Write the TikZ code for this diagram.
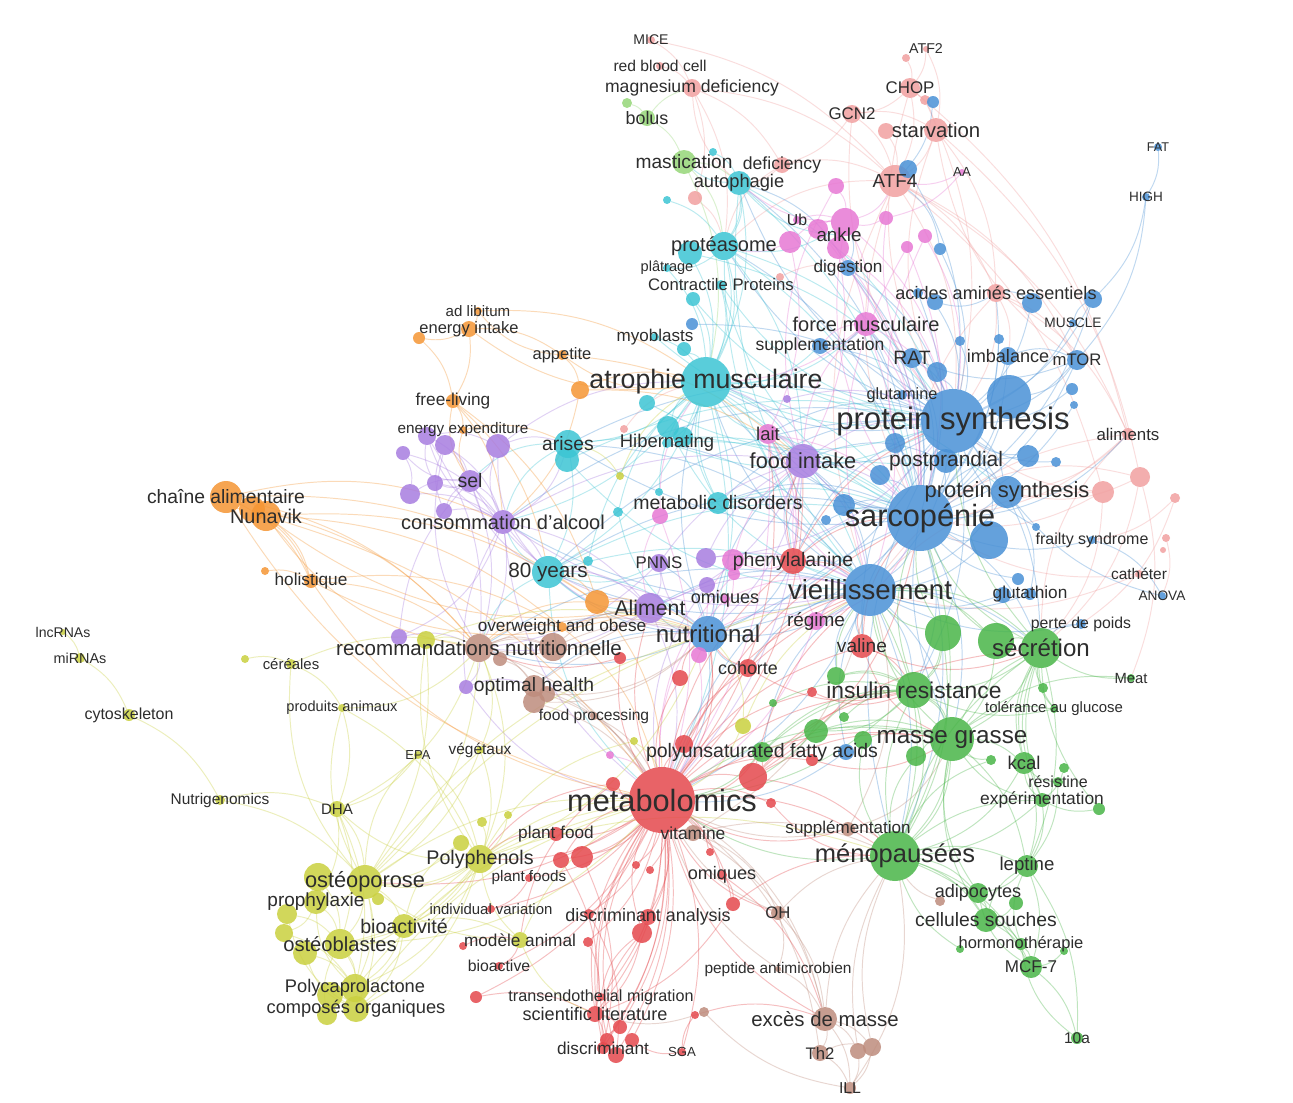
\documentclass[tikz,border=0pt]{standalone}
\usepackage{fontspec}
\setmainfont{Liberation Sans}

\definecolor{cred}{RGB}{229,72,77}
\definecolor{csalmon}{RGB}{241,160,160}
\definecolor{cgreen}{RGB}{73,181,72}
\definecolor{clime}{RGB}{150,215,120}
\definecolor{cblue}{RGB}{74,145,214}
\definecolor{cyellow}{RGB}{202,208,63}
\definecolor{cpurple}{RGB}{168,125,224}
\definecolor{ccyan}{RGB}{60,197,212}
\definecolor{corange}{RGB}{245,150,52}
\definecolor{cbrown}{RGB}{190,140,125}
\definecolor{cpink}{RGB}{231,120,212}
\definecolor{txt}{RGB}{45,45,45}

\tikzset{
  kw/.style={circle, inner sep=0pt, outer sep=0pt, minimum size={0.04cm*#1}},
  lbl/.style={inner sep=0pt, text=txt},
  link/.style={line width=0.55pt, draw opacity=0.35},
}

% keyword lists: name/x/y/radius/font size/label
\newcommand{\salmonkw}{mice/651/40/4/8/MICE, rbc/660/66/4/8.9/red blood cell,
  mgd/692/88/9/10/magnesium deficiency, atf2/926/49/3/8.1/ATF2, atfb/906/58/4/8/{},
  chop/910/88/10/9.6/CHOP, chopb/925/100/5/8/{}, gcn2/852/114/9/9.6/GCN2,
  starv/936/130/12/11.6/starvation, starvb/886/131/8/8/{}, atf4/895/181/16/10.7/ATF4,
  defic/782/165/8/10/deficiency, salA/695/198/7/8/{}, salB/780/277/4/8/{},
  aae/996/293/9/10.3/acides aminés essentiels, alim/1128/434/6/9.6/aliments,
  salC/1103/492/11/8/{}, salD/1140/477/10/8/{}, salE/1175/498/5/8/{},
  salF/1166/538/4/8/{}, salH/1163/550/3/8/{}, cath/1139/574/4/8.8/cathéter, salG/624/429/4/8/{}}
\newcommand{\bluekw}{fat/1158/147/4/7.2/FAT, high/1146/197/4/7.7/HIGH, blA/933/102/6/8/{},
  blB/908/169/9/8/{}, blC/940/249/6/8/{}, dig/848/268/8/9.8/digestion,
  blD/935/302/8/8/{}, blE/918/293/5/8/{}, blF/1032/303/10/8/{}, blG/1093/299/9/8/{},
  muscle/1073/323/4/7.8/MUSCLE, supp/820/346/8/10/supplementation, rat/912/358/10/11/RAT,
  blI/960/341/5/8/{}, blJ/999/339/5/8/{}, imb/1008/356/9/10.3/imbalance,
  mtor/1077/360/10/9.5/mTOR, blK/1072/389/6/8/{}, blL/1074/405/4/8/{}, blM/937/372/10/8/{},
  blN/1009/397/22/8/{}, glut/902/395/5/9.3/glutamine, ps/953/421/32/17.7/protein synthesis,
  blO/895/443/10/8/{}, blP/1028/456/11/8/{}, blQ/1056/462/5/8/{},
  post/946/461/12/11.9/postprandial, blR/880/475/10/8/{}, ps2/1007/492/16/12.5/protein synthesis,
  blS/844/505/11/8/{}, blT/826/520/5/8/{}, sarc/920/518/33/17.5/sarcopénie,
  blU/989/540/19/8/{}, frail/1092/540/4/9.1/frailty syndrome, blV/1036/527/4/8/{},
  vieil/870/590/26/15.7/vieillissement, blW/1003/595/8/8/{}, blWb/1018/579/6/8/{},
  gluta/1030/594/6/9.8/glutathion, anova/1162/596/4/7.8/ANOVA,
  perte/1081/624/5/9/perte de poids, nutri/708/634/18/13.7/nutritional,
  blX/692/324/6/8/{}, blY/846/752/8/8/{}}
\newcommand{\cyankw}{cyA/713/152/4/8/{}, cyB/667/200/4/8/{}, auto/739/183/12/10.4/autophagie,
  prot/724/246/14/11.4/protéasome, cyC/690/253/12/8/{}, plat/667/268/4/8.3/plâtrage,
  contr/721/285/5/9.5/Contractile Proteins, cyD/693/299/7/8/{}, myo/655/337/4/9.7/myoblasts,
  cyE/684/349/7/8/{}, atro/706/382/25/15.2/atrophie musculaire, cyF/647/403/8/8/{},
  cyG/668/427/11/8/{}, cyGb/683/437/10/8/{}, hib/667/443/5/10.5/Hibernating,
  arises/568/444/14/11/arises, cyH/567/460/12/8/{}, cyI/618/512/5/8/{}, cyJ/659/492/4/8/{},
  cyK/718/503/11/11.1/metabolic disorders, y80/548/572/16/11.8/80 years, cyL/588/561/5/8/{}}
\newcommand{\pinkkw}{aa/962/172/3/7.5/AA, pkA/836/186/8/8/{}, pkB/886/218/7/8/{}, ub/797/220/4/9/Ub,
  pkC/818/229/10/8/{}, pkAnk/845/222/14/8/{}, pkAnkb/838/248/11/8/{}, ankle/839/235/4/10.7/ankle,
  pkD/790/242/11/8/{}, pkE/925/236/7/8/{}, pkF/907/247/6/8/{}, force/866/324/12/11.4/force musculaire,
  lait/768/434/10/10.5/lait, pkG/733/560/11/8/{}, pkH/660/516/8/8/{},
  regime/816/621/9/10.8/régime, pkI/699/655/8/8/{}, pkJ/610/755/4/8/{}, pkL/734/574/6/8/{},
  omi/725/599/5/10.3/omiques}
\newcommand{\purplekw}{puA/427/436/9/8/{}, puB/445/445/10/8/{}, puC/498/446/12/8/{},
  puD/403/453/7/8/{}, sel/470/481/11/11.1/sel, puE/435/483/8/8/{}, puF/410/494/10/8/{},
  puG/444/511/8/8/{}, alc/503/522/12/11.4/consommation d’alcool,
  food/803/461/17/12.4/food intake, pnns/659/563/9/9.6/PNNS, puH/706/558/10/8/{},
  puI/707/585/8/8/{}, alimt/650/608/15/12.1/Aliment, puJ/399/637/8/8/{},
  puK/466/687/7/8/{}, puL/787/399/4/8/{}}
\newcommand{\orangekw}{adlib/478/311/4/8.6/ad libitum, eint/469/329/8/9.4/energy intake,
  orA/419/338/6/8/{}, app/562/355/5/9.4/appetite, orB/580/390/9/8/{},
  free/453/401/7/9.8/free-living, eexp/463/430/4/8.7/energy expenditure,
  orD/252/509/13/8/{}, chaine/226/497/16/11/chaîne alimentaire,
  nunavik/266/516/15/11.3/Nunavik, orE/265/571/4/8/{}, holi/311/581/7/9.8/holistique,
  orF/597/602/12/8/{}, over/562/627/5/9.8/overweight and obese}
\newcommand{\brownkw}{brB/553/647/14/8/{}, reco/479/648/14/11.7/recommandations nutritionnelle,
  brA/500/659/7/8/{}, brC/534/702/11/8/{}, brD/547/694/8/8/{},
  opt/534/686/11/11/optimal health, fproc/594/716/4/8.9/food processing,
  vit/693/833/8/9.9/vitamine, suppl/848/829/7/9.7/supplémentation, oh/778/913/7/9.5/OH,
  pept/778/969/3/8.8/peptide antimicrobien, exces/825/1019/12/11.6/excès de masse,
  th2/820/1053/8/9.5/Th2, brE/858/1051/8/8/{}, brF/872/1047/9/8/{}, ill/850/1088/6/9/ILL,
  brG/704/1012/5/8/{}, brH/940/901/5/8/{}}
\newcommand{\redkw}{metab/662/800/33/17.5/metabolomics, reA/753/777/14/8/{}, reB/684/744/9/8/{},
  reC/613/784/7/8/{}, reD/771/803/5/8/{}, reE/680/678/8/8/{}, reF/620/658/6/8/{},
  coh/748/668/9/10.2/cohorte, val/862/646/12/10.9/valine, reG/812/692/5/8/{},
  phen/793/561/13/11.1/phenylalanine, reH/812/760/6/8/{}, pfood/556/834/7/9.8/plant food,
  reI/561/860/8/8/{}, reJ/582/857/11/8/{}, pfoods/529/878/4/8.7/plant foods,
  indiv/491/909/4/8.5/individual variation, reK/642/933/10/8/{},
  disca/648/917/8/10.2/discriminant analysis, reL/589/914/5/8/{}, reM/588/942/5/8/{},
  bioact/499/966/4/9/bioactive, reO/463/946/4/8/{}, reP/476/997/6/8/{},
  trans/601/997/4/9.2/transendothelial migration, sci/595/1014/8/10.3/scientific literature,
  reQ/620/1027/7/8/{}, reR/607/1040/7/8/{}, reS/632/1040/7/8/{}, reT/616/1055/8/8/{},
  disc/603/1048/6/9.8/discriminant, sga/682/1052/4/7.5/SGA, reU/695/1015/4/8/{},
  omi2/722/875/5/10.3/omiques, reV/733/904/7/8/{}, reW/710/852/4/8/{},
  reX/636/865/4/8/{}, reY/650/870/4/8/{}}
\newcommand{\limekw}{liA/627/103/5/8/{}, bolus/647/118/8/10.2/bolus, mast/684/162/12/10.9/mastication}
\newcommand{\greenkw}{grA/943/633/18/8/{}, grB/996/641/18/8/{}, secr/1041/648/20/13.7/sécrétion,
  grC/836/676/9/8/{}, ins/914/690/18/13/insulin resistance, grD/844/717/5/8/{},
  grE/816/731/12/8/{}, grF/863/740/9/8/{}, masse/952/739/22/13.8/masse grasse,
  grG/916/756/10/8/{}, grH/1043/688/5/8/{}, tol/1054/709/4/8.5/tolérance au glucose,
  meat/1131/678/4/8.4/Meat, kcal/1024/763/11/10.5/kcal, grI/991/760/5/8/{},
  grJ/1064/768/5/8/{}, resis/1058/782/5/9.1/résistine, exp/1042/800/7/9.9/expérimentation,
  grK/1099/809/6/8/{}, meno/895/856/25/14.5/ménopausées, lept/1027/866/11/10.6/leptine,
  adip/978/893/10/10.3/adipocytes, grL/1016/903/7/8/{}, cell/986/920/12/11/cellules souches,
  horm/1021/944/6/9.4/hormonothérapie, grM/960/949/4/8/{}, grN/1064/951/4/8/{},
  mcf/1031/967/11/9.7/MCF-7, tena/1077/1038/6/8.8/10a,
  pufa/762/752/10/11.1/polyunsaturated fatty acids, grO/773/703/4/8/{}}
\newcommand{\yellowkw}{lnc/63/632/3/8/lncRNAs, mir/80/658/5/8.2/miRNAs, cyto/129/715/6/9.1/cytoskeleton,
  ngen/220/800/5/8.8/Nutrigenomics, ceA/245/659/4/8/{}, cer/291/664/5/8.5/céréales,
  pani/342/708/4/8.3/produits animaux, epa/418/755/4/7.4/EPA, veg/480/750/4/8.8/végétaux,
  dha/337/809/8/8.6/DHA, yeA/426/640/9/8/{}, yeB/620/476/4/8/{}, yeC/743/726/8/8/{},
  yeD/634/741/4/8/{}, yeE/482/822/5/8/{}, yeF/508/815/4/8/{}, yeG/461/843/8/8/{},
  poly/480/859/14/11.2/Polyphenols, yeH/318/877/14/8/{}, osteo/365/882/17/12.4/ostéoporose,
  yeI/378/899/6/8/{}, proph/316/902/12/10.8/prophylaxie, yeJ/287/914/10/8/{},
  yeK/284/933/9/8/{}, bioac/404/926/12/11.2/bioactivité, yeL/305/953/12/8/{},
  ostb/340/944/15/11.5/ostéoblastes, yeM/330/995/13/8/{}, polyc/355/988/14/10.4/Polycaprolactone,
  yeN/327/1015/10/8/{}, comp/356/1009/13/10.4/composés organiques, model/520/940/8/9.8/modèle animal}

% pass 1: named (invisible) keyword nodes
\newcommand{\placekw}[1]{%
  \foreach \nm/\px/\py/\rad/\fs/\lab in #1{\node[kw=\rad] (\nm) at (\px,\py) {};}}
% pass 3: discs
\newcommand{\diskkw}[2]{%
  \foreach \nm/\px/\py/\rad/\fs/\lab in #2{\fill[#1, fill opacity=0.85] (\nm.center) circle[radius=\rad];}}
% pass 4: labels
\newcommand{\labelkw}[1]{%
  \foreach \nm/\px/\py/\rad/\fs/\lab in #1{\node[lbl, font=\fontsize{\fs}{\fs}\selectfont] at (\nm) {\lab};}}
% co-occurrence links, coloured as their first keyword
\newcommand{\links}[2]{%
  \foreach \ea/\eb in {#2}{\draw[link, #1] (\ea) to[bend left=18] (\eb);}}
\newcommand{\linksr}[2]{%
  \foreach \ea/\eb in {#2}{\draw[link, #1] (\ea) to[bend right=22] (\eb);}}

\begin{document}
\begin{tikzpicture}[x=0.02cm, y=-0.02cm]
\fill[white] (0,0) rectangle (1293,1102);
\useasboundingbox (0,0) rectangle (1293,1102);

\placekw{\salmonkw} \placekw{\bluekw} \placekw{\cyankw} \placekw{\pinkkw}
\placekw{\purplekw} \placekw{\orangekw} \placekw{\brownkw} \placekw{\redkw}
\placekw{\limekw} \placekw{\greenkw} \placekw{\yellowkw}

\links{csalmon}{mice/mgd, rbc/mgd, mgd/defic, mgd/salA, mgd/atf4, mgd/prot, atf2/chop, atf2/starv,
  atfb/chop, chop/starv, chop/atf4, chop/gcn2, gcn2/starv, gcn2/atf4, gcn2/defic, starv/atf4,
  starvb/atf4, starv/aae, atf4/aae, atf4/ps, atf4/mtor, atf4/alim, defic/atf4, defic/auto,
  salA/prot, aae/ps, aae/mtor, aae/alim, aae/imb, alim/sarc, alim/ps2, salC/sarc, salC/ps,
  salD/ps2, salD/secr, salE/frail, salF/anova, cath/sarc, cath/vieil, salG/atro, salB/dig,
  starv/salD, chop/alim, atf4/salC, salC/secr, salD/meat, salE/perte, mice/atf4, chopb/ps}
\linksr{csalmon}{atf4/sarc, atf4/prot, starv/ps, chop/ps, gcn2/ps, alim/secr, alim/vieil,
  salC/vieil, salD/sarc, aae/sarc, defic/prot, mgd/auto, starv/mtor, atf4/vieil}
\links{cblue}{fat/high, high/mtor, high/blG, blA/atf4, blB/ps, blC/ps, dig/ps, dig/sarc, blD/ps,
  blE/sarc, blF/ps, blG/ps, blG/sarc, muscle/ps, supp/ps, supp/sarc, rat/ps, rat/sarc, blI/ps,
  blJ/sarc, imb/ps, mtor/ps, mtor/sarc, blK/ps, blL/sarc, blM/ps, blN/sarc, blN/ps, glut/ps,
  ps/sarc, ps/vieil, ps/nutri, ps/atro, blO/sarc, blP/ps, blQ/ps, post/ps, post/sarc, blR/sarc,
  ps2/sarc, ps2/vieil, blS/sarc, blT/sarc, sarc/vieil, sarc/nutri, sarc/atro, sarc/food,
  sarc/secr, sarc/meno, sarc/ins, blU/sarc, blU/vieil, frail/sarc, blV/ps, vieil/nutri,
  vieil/atro, vieil/meno, vieil/masse, vieil/secr, vieil/y80, blW/vieil, blWb/sarc, gluta/vieil,
  anova/ps2, perte/vieil, nutri/atro, nutri/alimt, nutri/reco, nutri/metab, nutri/y80, blX/ps,
  blY/vieil, blY/metab, ps/prot, ps/auto, sarc/arises, vieil/alc, ps/force, sarc/lait,
  vieil/metab, ps/ins, sarc/masse, ps/secr, vieil/ins, nutri/food, ps/food}
\linksr{cblue}{ps/meno, ps/masse, ps/y80, ps/alc, ps/lait, sarc/prot, sarc/auto, sarc/force,
  sarc/dig, sarc/rat, sarc/imb, sarc/aae, sarc/alim, vieil/food, vieil/phen, vieil/regime,
  vieil/coh, vieil/val, vieil/reco, vieil/alimt, vieil/arises, nutri/phen, nutri/pnns,
  nutri/over, nutri/opt, nutri/coh, ps2/ps, ps2/post, post/food, rat/mtor, mtor/imb, blN/mtor,
  blP/sarc, blU/ps, gluta/ps2, perte/secr, anova/frail, supp/force, dig/auto, dig/pkAnk,
  blC/atf4, blB/atf4, blD/aae, blF/aae, blG/muscle, ps/cyK, sarc/cyK, sarc/phen, vieil/pufa,
  vieil/grC, sarc/val, ps/val, ps/phen, sarc/y80, ps/arises, vieil/hib, sarc/metab}
\links{ccyan}{cyA/auto, cyB/prot, auto/prot, auto/atro, auto/ps, auto/mast, prot/atro, prot/ps,
  prot/sarc, cyC/atro, plat/atro, contr/atro, cyD/atro, myo/atro, cyE/atro, atro/arises,
  atro/hib, atro/y80, atro/sarc, atro/vieil, atro/food, atro/alc, cyF/atro, cyG/atro, cyGb/sarc,
  hib/sarc, arises/y80, cyH/ps, cyI/atro, cyJ/atro, cyK/atro, cyK/sarc, y80/vieil, y80/sarc,
  y80/alc, cyL/atro, atro/metab, atro/nutri, prot/food, atro/phen, cyK/vieil, arises/sarc,
  atro/ps2, auto/sarc, cyC/ps, y80/nutri}
\linksr{ccyan}{atro/lait, atro/force, atro/prot, atro/supp, atro/cyK, prot/auto, prot/pkAnk,
  auto/ankle, arises/alc, arises/sel, y80/alimt, y80/reco, y80/pnns, y80/metab, cyK/food,
  cyF/ps, myo/ps, contr/ps, contr/sarc, plat/prot, cyD/ps, hib/ps, cyG/vieil, cyH/vieil,
  cyI/nutri, atro/post, prot/vieil, auto/vieil}
\links{cpink}{aa/pkB, pkA/pkAnk, pkB/pkAnk, ub/pkAnk, pkAnk/ps, pkAnkb/sarc, pkAnkb/food,
  pkAnk/force, pkC/force, pkD/lait, pkE/ps, pkF/sarc, force/ps, force/sarc, force/vieil,
  lait/food, lait/sarc, lait/metab, pkG/vieil, pkG/food, pkH/atro, pkH/metab, regime/vieil,
  regime/metab, pkI/metab, pkJ/metab, pkL/nutri, aa/atf4, pkAnk/auto, pkD/prot, force/atro,
  regime/food, lait/phen, pkAnkb/ps, omi/vieil, pkC/sarc}
\linksr{cpink}{pkAnk/pkC, pkAnk/pkD, pkAnk/atf4, pkAnk/sarc, pkB/ps, pkE/sarc, force/food,
  force/supp, lait/vieil, pkG/phen, pkG/nutri, regime/nutri, regime/sarc, pkI/nutri, omi/metab,
  pkL/metab, pkH/alimt, pkA/food, pkF/vieil}
\links{cpurple}{puA/sel, puB/sel, puC/sel, puD/puF, sel/alc, puE/alc, puF/alc, puG/alc, puA/puC,
  puB/alc, alc/y80, alc/alimt, alc/reco, alc/food, puC/atro, puC/arises, food/sarc, food/ps,
  food/vieil, food/metab, food/nutri, pnns/alimt, pnns/reco, puH/vieil, puH/food, puI/nutri,
  alimt/reco, alimt/nutri, alimt/metab, alimt/vieil, puJ/reco, puJ/sel, puK/opt, puK/alc,
  puL/ps, sel/reco, puA/reco, puD/alc, pnns/food, puF/sel, puG/sel, puE/puA}
\linksr{cpurple}{sel/y80, sel/alimt, alc/nutri, alc/metab, alc/arises, puC/alc, puC/y80,
  puB/reco, puA/alc, food/lait, food/phen, food/atro, pnns/nutri, alimt/y80, alimt/food,
  puH/ps, puI/metab, puJ/alc, puK/reco, puK/metab, puD/sel, puE/sel, puB/puG, alc/vieil}
\links{corange}{adlib/eint, eint/orA, eint/app, orA/free, eint/free, app/orB, orB/atro, orB/food,
  free/eexp, free/y80, free/orF, eexp/arises, chaine/nunavik, chaine/holi, nunavik/holi,
  chaine/reco, nunavik/orF, nunavik/over, orD/holi, orE/holi, holi/reco, holi/over, orF/alimt,
  orF/nutri, orF/metab, over/nutri, over/metab, chaine/alc, nunavik/metab, orD/reco, app/food,
  orB/alc, free/alc, adlib/atro, chaine/orF}
\linksr{corange}{chaine/orD, nunavik/orD, chaine/metab, nunavik/reco, nunavik/alimt, holi/metab,
  holi/alimt, eint/atro, app/atro, free/sel, eexp/sel, orF/reco, over/reco, orF/y80, adlib/app}
\links{cbrown}{reco/brB, reco/opt, brA/opt, brB/nutri, brB/alimt, opt/metab, opt/fproc,
  brC/metab, brD/metab, fproc/metab, vit/metab, vit/meno, suppl/meno, suppl/metab, oh/metab,
  oh/exces, oh/meno, pept/exces, pept/metab, exces/th2, exces/brE, exces/brF, exces/ill, th2/ill,
  brE/ill, brF/ill, brF/meno, brG/sci, brH/meno, exces/meno, reco/metab, th2/brF, oh/pept,
  brE/meno, ill/brG, reco/nutri, opt/nutri}
\linksr{cbrown}{exces/metab, exces/vit, th2/metab, reco/alimt, brB/reco, brC/nutri, vit/vieil,
  suppl/vieil, suppl/masse, oh/vit, brD/nutri, ill/meno}
\links{cred}{metab/reA, metab/reB, metab/reC, metab/reD, metab/reE, metab/reF, metab/coh,
  metab/val, metab/reG, metab/phen, metab/reH, metab/pfood, metab/reI, metab/reJ, metab/pfoods,
  metab/indiv, metab/disca, metab/reK, metab/reL, metab/reM, metab/bioact, metab/reP,
  metab/trans, metab/sci, metab/reQ, metab/reR, metab/reS, metab/reT, metab/disc, metab/sga,
  metab/omi2, metab/reV, metab/reW, metab/reX, metab/reY, metab/vieil, metab/sarc, metab/meno,
  metab/masse, metab/ins, metab/poly, metab/osteo, reA/masse, reA/meno, reA/ins, reA/vieil,
  val/vieil, val/ins, val/sarc, coh/vieil, coh/nutri, phen/ps, phen/sarc, phen/vieil, reE/nutri,
  reF/reco, reV/sci, reK/sci, reO/model, reP/sci, sci/disc, sci/reQ, reR/reT, reS/reT,
  sga/reU, reU/exces, disca/reK, reV/meno, reA/secr, metab/alimt, reB/vieil, phen/food,
  reM/sci, reL/reT, reI/sci, reJ/disc, omi2/exces}
\linksr{cred}{metab/food, metab/lait, metab/pufa, metab/oh, metab/vit, metab/exces,
  metab/suppl, reA/pufa, reB/nutri, reC/poly, reC/model, reK/disc, reK/trans, reV/omi2,
  reQ/disc, reS/sga, reT/disc, bioact/model, indiv/pfoods, pfood/poly, phen/lait, val/masse,
  val/secr, coh/ins, reG/ins, reH/masse, reD/meno, metab/sci, metab/disc, metab/reT,
  metab/reR, metab/reK, metab/reI, reA/sarc, metab/nutri}
\links{clime}{liA/bolus, bolus/mast, mast/auto, mast/prot, bolus/mgd, mast/atro}
\links{cgreen}{grA/sarc, grA/vieil, grA/ins, grB/secr, grB/sarc, secr/sarc, secr/masse,
  secr/ins, secr/ps, secr/lept, grC/vieil, grC/ins, ins/masse, ins/vieil, ins/sarc, ins/meno,
  grD/ins, grE/masse, grE/metab, grF/masse, masse/meno, masse/kcal, masse/lept, masse/secr,
  grG/masse, grH/secr, tol/secr, tol/ins, meat/secr, kcal/lept, grI/masse, grJ/exp, resis/lept,
  exp/meno, exp/lept, grK/exp, grK/secr, meno/lept, meno/adip, meno/cell, meno/horm, meno/mcf,
  lept/adip, lept/mcf, adip/cell, grL/cell, cell/horm, cell/mcf, horm/mcf, grM/meno, grN/mcf,
  mcf/tena, lept/tena, pufa/masse, pufa/metab, pufa/ins, grO/ins, meno/secr, meno/ins,
  kcal/secr, meno/exp, exp/secr, grA/meno, grB/masse, masse/vieil, meno/metab, ins/metab}
\linksr{cgreen}{meno/kcal, meno/sarc, meno/vieil, masse/ins, masse/exp, masse/adip, masse/cell,
  secr/kcal, secr/exp, secr/tol, ins/grA, ins/grC, ins/grE, ins/pufa, kcal/exp, kcal/resis,
  lept/cell, lept/horm, adip/mcf, horm/tena, grG/meno, grE/ins, grF/meno, grI/meno, tol/masse,
  meat/masse, meno/masse, secr/vieil, grB/vieil, masse/metab}
\links{cyellow}{lnc/mir, mir/cyto, cyto/ngen, ngen/dha, ngen/osteo, ceA/cer, cer/pani, cer/reco,
  pani/dha, pani/poly, epa/dha, epa/poly, veg/poly, veg/osteo, dha/osteo, dha/ostb, dha/proph,
  dha/polyc, yeA/reco, yeA/osteo, yeB/atro, yeC/metab, yeD/metab, yeE/poly, yeF/poly,
  yeG/osteo, poly/osteo, poly/metab, poly/bioac, poly/ostb, osteo/proph, osteo/ostb,
  osteo/bioac, osteo/polyc, osteo/comp, yeH/ostb, yeI/osteo, proph/ostb, yeJ/ostb, yeK/polyc,
  bioac/ostb, bioac/polyc, bioac/metab, ostb/polyc, ostb/comp, yeL/polyc, polyc/comp, yeM/comp,
  yeN/ostb, model/metab, model/osteo, model/poly, osteo/metab, osteo/nutri, poly/meno,
  comp/metab, yeC/vieil, osteo/vieil, yeA/nutri, polyc/metab}
\linksr{cyellow}{dha/reco, dha/poly, epa/osteo, veg/reco, cer/osteo, pani/osteo, pani/reco,
  poly/reco, poly/nutri, osteo/reco, osteo/poly, ostb/metab, comp/poly, yeA/poly, yeB/arises,
  yeC/nutri, yeD/poly, yeG/bioac, proph/polyc, yeJ/comp, yeK/proph, yeL/comp, yeH/proph,
  model/bioac, model/sci, ostb/poly, polyc/poly, comp/bioac}

\diskkw{csalmon}{\salmonkw} \diskkw{cblue}{\bluekw} \diskkw{ccyan}{\cyankw}
\diskkw{cpink}{\pinkkw} \diskkw{cpurple}{\purplekw} \diskkw{corange}{\orangekw}
\diskkw{cbrown}{\brownkw} \diskkw{cred}{\redkw} \diskkw{clime}{\limekw}
\diskkw{cgreen}{\greenkw} \diskkw{cyellow}{\yellowkw}

\labelkw{\salmonkw} \labelkw{\bluekw} \labelkw{\cyankw} \labelkw{\pinkkw}
\labelkw{\purplekw} \labelkw{\orangekw} \labelkw{\brownkw} \labelkw{\redkw}
\labelkw{\limekw} \labelkw{\greenkw} \labelkw{\yellowkw}
\end{tikzpicture}
\end{document}
